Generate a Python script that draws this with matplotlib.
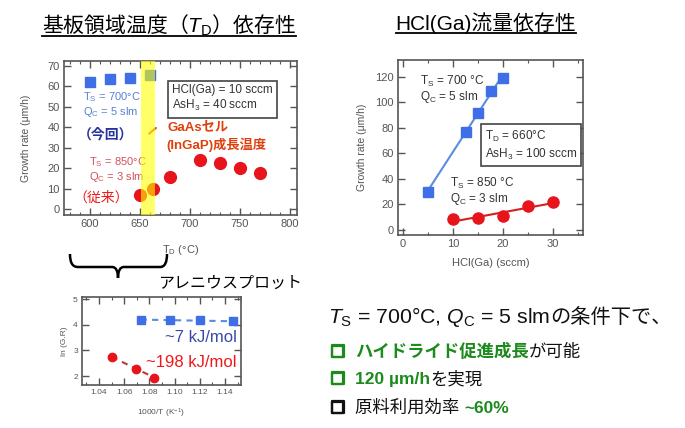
import matplotlib
matplotlib.use("Agg")
import matplotlib.pyplot as plt
import matplotlib.patheffects as pe
import numpy as np
from matplotlib.lines import Line2D
from matplotlib.patches import PathPatch
from matplotlib.path import Path as MPath
from matplotlib.ticker import MultipleLocator

plt.rcParams["font.family"] = ["Liberation Sans", "Noto Sans CJK JP"]
plt.rcParams["mathtext.fontset"] = "custom"
plt.rcParams["mathtext.rm"] = "Liberation Sans"
plt.rcParams["mathtext.it"] = "Liberation Sans:italic"
plt.rcParams["mathtext.bf"] = "Liberation Sans:bold"

JP = "Noto Sans CJK JP"

# 基板領域温度依存性
TD_NEW = [600, 620, 640, 660]
GR_NEW = [62, 63.5, 64, 65.5]
TD_OLD = [650, 663, 680, 710, 730, 750, 770]
GR_OLD = [7, 9.8, 15.6, 24, 22.7, 20.3, 17.9]
CELL_BAND = (651, 665)

# HCl(Ga)流量依存性
HCL_NEW = [5, 12.5, 15, 17.5, 20]
GR_HCL_NEW = [30, 77, 91.5, 109, 119]
HCL_OLD = [10, 15, 20, 25, 30]
GR_HCL_OLD = [8.5, 9.3, 10.5, 18.5, 22]

# アレニウスプロット
INV_T_NEW = [1.073, 1.096, 1.120, 1.146]
LN_GR_NEW = [4.20, 4.17, 4.17, 4.13]
INV_T_OLD = [1.050, 1.069, 1.084]
LN_GR_OLD = [2.75, 2.29, 1.94]

BLUE = "#3f6fe6"
RED = "#e8141c"
GRAY = "#555555"
GREEN = "#1c8a1c"

W, H = 685, 428
fig = plt.figure(figsize=(W / 100, H / 100), dpi=100)


def px(x, y):
    return x / W, 1 - y / H


def axes_px(left, top, right, bottom):
    return fig.add_axes([left / W, 1 - bottom / H, (right - left) / W, (bottom - top) / H])


def style_axes(ax, labelsize=8):
    for sp in ax.spines.values():
        sp.set_color(GRAY)
        sp.set_linewidth(1.2)
    ax.tick_params(which="both", direction="in", top=True, right=True,
                   colors=GRAY, labelcolor=GRAY, labelsize=labelsize, pad=3)
    ax.tick_params(which="major", length=5, width=1)
    ax.tick_params(which="minor", length=2.5, width=0.8)


renderer = fig.canvas.get_renderer()


def rich_text(x, y, pieces, **kw):
    # 色・太さの違う文字列をベースラインを揃えて横に並べる
    for s, props in pieces:
        t = fig.text(x, y, s, va="baseline", ha="left", **{**kw, **props})
        bb = t.get_window_extent(renderer)
        x = fig.transFigure.inverted().transform((bb.x1, 0))[0]


def underlined_title(xc, y, s, **kw):
    t = fig.text(xc, y, s, ha="center", va="baseline", **kw)
    bb = t.get_window_extent(renderer)
    inv = fig.transFigure.inverted()
    x0 = inv.transform((bb.x0, 0))[0]
    x1 = inv.transform((bb.x1, 0))[0]
    yl = y - 3 / H
    fig.add_artist(Line2D([x0, x1], [yl, yl], color="black", lw=1.3,
                          transform=fig.transFigure))


# ---- 基板領域温度依存性 ----
underlined_title(169 / W, 1 - 33 / H, "基板領域温度（$T_\\mathrm{D}$）依存性",
                 fontsize=15, family=JP)

ax1 = axes_px(64, 61, 297, 215)
style_axes(ax1)
ax1.plot(TD_NEW, GR_NEW, "s", color=BLUE, ms=7.5, zorder=3)
ax1.plot(TD_OLD, GR_OLD, "o", color=RED, ms=8.5, zorder=3)
ax1.axvspan(*CELL_BAND, color="#ffff00", alpha=0.6, lw=0, zorder=4)
ax1.set_xlim(574, 807)
ax1.set_ylim(-2.8, 72.3)
ax1.xaxis.set_major_locator(MultipleLocator(50))
ax1.xaxis.set_minor_locator(MultipleLocator(10))
ax1.yaxis.set_major_locator(MultipleLocator(10))
ax1.set_xlabel("T$_\\mathrm{D}$ (°C)", fontsize=8, color=GRAY)
ax1.set_ylabel("Growth rate (μm/h)", fontsize=7.5, color=GRAY)
ax1.xaxis.set_label_coords(0.5, -0.18)
ax1.yaxis.set_label_coords(-0.14, 0.5)

ax1.text(682, 54, "HCl(Ga) = 10 sccm\nAsH$_3$ = 40 sccm", fontsize=8.5,
         color="#333333", va="center", linespacing=1.25,
         bbox=dict(boxstyle="square,pad=0.35", fc="white", ec="#444444", lw=1.2))
ax1.text(593, 54.5, "T$_\\mathrm{S}$ = 700°C", fontsize=8, color="#5b80d8", va="center")
ax1.text(593, 47.5, "Q$_\\mathrm{C}$ = 5 slm", fontsize=8, color="#5b80d8", va="center")
ax1.text(588, 36.5, "（今回）", fontsize=10, color="#26339e", fontweight="bold",
         va="center", family=JP)
ax1.annotate("", xy=(657, 36), xytext=(668, 40.5),
             arrowprops=dict(arrowstyle="-", color="#e0501a", lw=1.5))
ax1.text(677, 39.8, "GaAsセル", fontsize=9.5, color="#e0400e", fontweight="bold", va="center")
ax1.text(676, 31.4, "(InGaP)成長温度", fontsize=9.5, color="#e0400e", fontweight="bold",
         va="center")
ax1.text(599, 23, "T$_\\mathrm{S}$ = 850°C", fontsize=8, color="#d4505a", va="center")
ax1.text(599, 15.7, "Q$_\\mathrm{C}$ = 3 slm", fontsize=8, color="#d4505a", va="center")
ax1.text(583, 5.8, "（従来）", fontsize=10, color="#f01818", va="center", family=JP)

# ---- HCl(Ga)流量依存性 ----
underlined_title(486 / W, 1 - 30 / H, "HCl(Ga)流量依存性", fontsize=15)

ax2 = axes_px(398, 60, 583, 235)
style_axes(ax2)
for xs, ys, mk, col, lcol, ms in [
    (HCL_NEW, GR_HCL_NEW, "s", BLUE, "#5a8ce0", 7),
    (HCL_OLD, GR_HCL_OLD, "o", RED, "#d42020", 8),
]:
    k, b = np.polyfit(xs, ys, 1)
    xf = np.array([min(xs), max(xs)])
    ax2.plot(xf, k * xf + b, "-", color=lcol, lw=1.5, zorder=2)
    ax2.plot(xs, ys, mk, color=col, ms=ms, zorder=3)
ax2.set_xlim(-1, 36)
ax2.set_ylim(-4, 133)
ax2.xaxis.set_major_locator(MultipleLocator(10))
ax2.xaxis.set_minor_locator(MultipleLocator(5))
ax2.yaxis.set_major_locator(MultipleLocator(20))
ax2.set_xlabel("HCl(Ga) (sccm)", fontsize=8, color=GRAY)
ax2.set_ylabel("Growth rate (μm/h)", fontsize=7.5, color=GRAY)
ax2.xaxis.set_label_coords(0.5, -0.13)
ax2.yaxis.set_label_coords(-0.165, 0.5)

ax2.text(16.4, 66.3, "T$_\\mathrm{D}$ = 660°C\nAsH$_3$ = 100 sccm", fontsize=8.5,
         color="#333333", va="center", linespacing=1.3,
         bbox=dict(boxstyle="square,pad=0.35", fc="white", ec="#444444", lw=1.2))
ax2.text(3.4, 116, "T$_\\mathrm{S}$ = 700 °C", fontsize=8.5, color="#333333", va="center")
ax2.text(3.4, 104, "Q$_\\mathrm{C}$ = 5 slm", fontsize=8.5, color="#333333", va="center")
ax2.text(9.4, 36, "T$_\\mathrm{S}$ = 850 °C", fontsize=8.5, color="#333333", va="center")
ax2.text(9.4, 24.3, "Q$_\\mathrm{C}$ = 3 slm", fontsize=8.5, color="#333333", va="center")

# ---- 波括弧とアレニウスプロット ----
brace = [(70, 254), (70, 262), (72, 267), (78, 267), (112, 267),
         (116, 267), (118, 271), (118, 278), (118, 271), (120, 267), (124, 267),
         (160, 267), (165, 267), (167, 262), (167, 254)]
codes = [MPath.MOVETO, MPath.CURVE4, MPath.CURVE4, MPath.CURVE4, MPath.LINETO,
         MPath.CURVE4, MPath.CURVE4, MPath.CURVE4, MPath.CURVE4, MPath.CURVE4, MPath.CURVE4,
         MPath.LINETO, MPath.CURVE4, MPath.CURVE4, MPath.CURVE4]
fig.add_artist(PathPatch(MPath([px(*p) for p in brace], codes), fc="none", ec="black",
                         lw=1.8, transform=fig.transFigure))
fig.text(*px(158, 283), "アレニウスプロット", fontsize=11.5, va="center", ha="left")

ax3 = axes_px(82, 297, 241, 385)
style_axes(ax3, labelsize=6)
for xs, ys, mk, col, lcol, ms in [
    (INV_T_NEW, LN_GR_NEW, "s", BLUE, "#5a8ce0", 5.5),
    (INV_T_OLD, LN_GR_OLD, "o", RED, "#b83a3a", 6),
]:
    k, b = np.polyfit(xs, ys, 1)
    xf = np.array([min(xs), max(xs)])
    ax3.plot(xf, k * xf + b, "--", color=lcol, lw=1.5, dashes=(3, 2.5), zorder=2)
    ax3.plot(xs, ys, mk, color=col, ms=ms, zorder=3)
ax3.set_xlim(1.0265, 1.1527)
ax3.set_ylim(1.65, 5.08)
ax3.xaxis.set_major_locator(MultipleLocator(0.02))
ax3.xaxis.set_minor_locator(MultipleLocator(0.01))
ax3.yaxis.set_major_locator(MultipleLocator(1))
ax3.set_xlabel("1000/T (K$^{-1}$)", fontsize=6, color=GRAY)
ax3.set_ylabel("ln (G.R)", fontsize=6, color=GRAY)
ax3.xaxis.set_label_coords(0.5, -0.25)
ax3.yaxis.set_label_coords(-0.09, 0.5)
ax3.text(1.1495, 3.52, "~7 kJ/mol", fontsize=12, color="#3a4aa8", ha="right", va="center")
ax3.text(1.1495, 2.51, "~198 kJ/mol", fontsize=12, color="#f01818", ha="right", va="center")

# ---- まとめ ----
rich_text(328 / W, 1 - 323 / H, [
    ("$T_\\mathrm{S}$ = 700°C, $Q_\\mathrm{C}$ = 5 slm",
     dict(family="Liberation Sans", fontsize=15.3)),
    ("の条件下で、", dict(family=JP, fontsize=14.6)),
], color="#111111")

bullets = [
    (357, GREEN, [("ハイドライド促進成長", GREEN, "bold"), ("が可能", "#111111", "normal")]),
    (384, GREEN, [("120 µm/h", GREEN, "bold"), ("を実現", "#111111", "normal")]),
    (413, "#111111", [("原料利用効率 ", "#111111", "normal"), ("~60%", GREEN, "bold")]),
]
for y, box_color, parts in bullets:
    fig.text(330 / W, 1 - y / H, "□", fontsize=11, color=box_color,
             fontweight="bold", va="baseline", family=JP,
             path_effects=[pe.withStroke(linewidth=1.6, foreground=box_color)])
    rich_text(355 / W, 1 - y / H,
              [(s, dict(color=c, fontweight=fw)) for s, c, fw in parts], fontsize=12.5)

fig.savefig("out.png", dpi=100)
